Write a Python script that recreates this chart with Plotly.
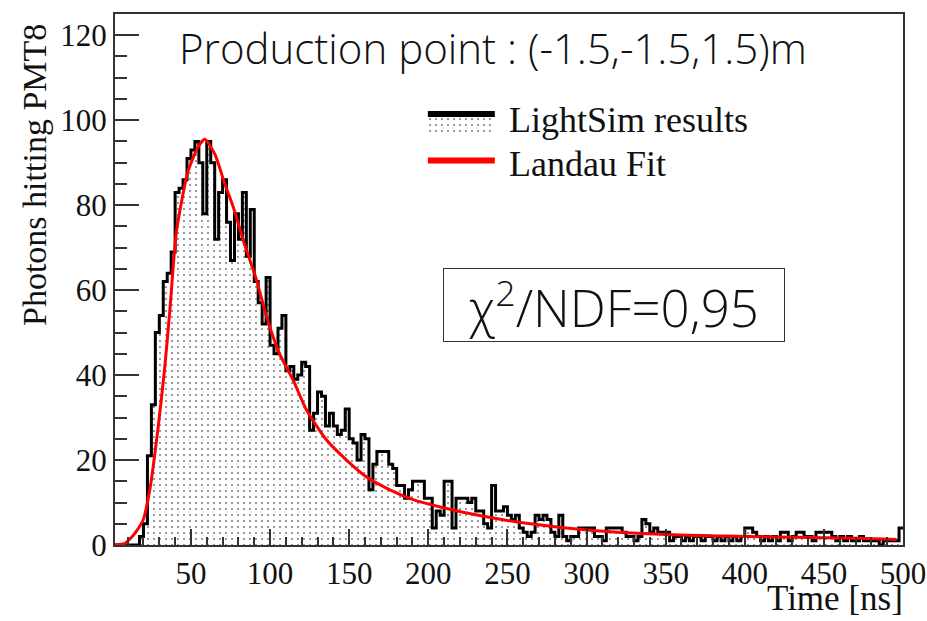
import plotly.graph_objects as go

# ---------------- data ----------------
bin_width = 2.5  # ns, histogram binning 0-500 ns
counts = [
    0, 0, 0, 0, 0, 0, 0, 2, 5, 21,            # 0-25
    33, 50, 54, 62, 64, 69, 83, 84, 86, 91,   # 25-50
    93, 95, 90, 78, 95, 90, 72, 83, 86, 76,   # 50-75
    67, 78, 72, 83, 68, 79, 62, 57, 52, 63,   # 75-100
    47, 45, 51, 54, 41, 42, 39, 40, 43, 42,   # 100-125
    27, 31, 36, 35, 28, 31, 28, 26, 27, 32,   # 125-150
    25, 24, 20, 26, 25, 13, 19, 22, 22, 22,   # 150-175
    19, 18, 14, 14, 11, 13, 15, 15, 15, 11,   # 175-200
    11, 4, 8, 7, 15, 15, 4, 11, 11, 11,       # 200-225
    10, 11, 8, 8, 5, 4, 14, 8, 8, 9,          # 225-250
    7, 6, 7, 4, 3, 2, 3, 7, 6, 7,             # 250-275
    6, 3, 2, 7, 2, 1, 2, 2, 4, 4,             # 275-300
    4, 4, 2, 2, 1, 4, 4, 4, 4, 3,             # 300-325
    2, 2, 1, 2, 6, 5, 3, 4, 3, 3,             # 325-350
    3, 1, 2, 2, 1, 2, 1, 2, 2, 1,             # 350-375
    2, 2, 1, 2, 1, 2, 1, 2, 1, 2,             # 375-400
    4, 4, 3, 2, 1, 2, 1, 2, 1, 3,             # 400-425
    3, 1, 2, 3, 3, 2, 2, 1, 3, 3,             # 425-450
    3, 3, 2, 1, 2, 1, 2, 1, 1, 2,             # 450-475
    1, 1, 1, 1, 0, 1, 1, 1, 1, 4,             # 475-500
]
bin_edges = [i * bin_width for i in range(len(counts) + 1)]

fit_time = [2, 8, 11.4, 15, 19.8, 24, 29.3, 33.5, 36.6, 40.9, 48.2, 54.5, 58.8,
            65.1, 71.4, 76.7, 83, 91.4, 97.8, 106, 114.6, 123, 135.7, 148.3,
            161, 175.7, 190.4, 207, 230, 262, 304, 354.5, 388, 430, 472.7, 496]
fit_vals = [0, 0.3, 1.4, 3, 5.9, 13, 27.8, 42, 55, 74, 88, 93.7, 95.5,
            92, 85, 79.6, 71.8, 62.4, 53.7, 45, 38.8, 31.8, 24.7, 20,
            16, 13, 10.7, 9, 7.1, 5.1, 3.4, 2.4, 2.1, 1.8, 1.6, 1.3]

x_ticks = [50, 100, 150, 200, 250, 300, 350, 400, 450, 500]
y_ticks = [0, 20, 40, 60, 80, 100, 120]

series_names = ["LightSim results", "Landau Fit"]
series_colors = ["black", "#ff0000"]

# ---------------- figure ----------------
serif = "Liberation Serif"
sans = "Open Sans"
pattern = dict(shape=".", fgcolor="black", bgcolor="white", size=6, solidity=0.1)

fig = go.Figure()

fig.add_trace(go.Scatter(
    x=bin_edges,
    y=counts + [counts[-1]],
    mode="lines",
    line=dict(shape="hv", color=series_colors[0], width=3),
    fill="tozeroy",
    fillcolor="white",
    fillpattern=pattern,
    name=series_names[0],
    showlegend=False,
))

fig.add_trace(go.Scatter(
    x=fit_time,
    y=fit_vals,
    mode="lines",
    line=dict(shape="spline", smoothing=0.6, color=series_colors[1], width=3),
    name=series_names[1],
    showlegend=False,
))

# ---- legend key (drawn on a hidden overlay axis spanning the plot area) ----
lx0, lx1 = 0.397, 0.482
fig.add_trace(go.Scatter(
    x=[lx0, lx1, lx1, lx0, lx0], y=[0.806, 0.806, 0.776, 0.776, 0.806],
    xaxis="x2", yaxis="y2", mode="none", fill="toself", fillcolor="white",
    fillpattern=pattern, showlegend=False, hoverinfo="skip",
))
fig.add_trace(go.Scatter(
    x=[lx0, lx1], y=[0.8117, 0.8117], xaxis="x2", yaxis="y2", mode="lines",
    line=dict(color=series_colors[0], width=6), showlegend=False, hoverinfo="skip",
))
fig.add_trace(go.Scatter(
    x=[lx0, lx1], y=[0.724, 0.724], xaxis="x2", yaxis="y2", mode="lines",
    line=dict(color=series_colors[1], width=6), showlegend=False, hoverinfo="skip",
))

def axis_common():
    return dict(
        showline=True, linecolor="#333333", linewidth=2, mirror=True,
        showgrid=False, zeroline=False, automargin=False,
        ticks="inside", tickcolor="#333333", tickwidth=1.5,
        tickfont=dict(family=serif, size=31, color="#111111"),
    )

xaxis = axis_common()
xaxis.update(range=[2, 500], tickvals=x_ticks, ticklen=16,
             minor=dict(ticks="inside", dtick=10, tick0=0, ticklen=8,
                        tickcolor="#333333", tickwidth=1.5))
yaxis = axis_common()
yaxis.update(range=[0, 125], tickvals=y_ticks, ticklen=24,
             minor=dict(ticks="inside", dtick=5, tick0=0, ticklen=12,
                        tickcolor="#333333", tickwidth=1.5))

fig.update_layout(
    width=927, height=621,
    margin=dict(l=115, r=24, t=14, b=76),
    paper_bgcolor="white", plot_bgcolor="white",
    showlegend=False,
    xaxis=xaxis,
    yaxis=yaxis,
    xaxis2=dict(overlaying="x", anchor="y2", range=[0, 1], visible=False, domain=[0, 1]),
    yaxis2=dict(overlaying="y", anchor="x2", range=[0, 1], visible=False, domain=[0, 1]),
    annotations=[
        dict(text=series_names[0], xref="paper", yref="paper", x=0.498, y=0.8,
             xanchor="left", yanchor="middle", showarrow=False,
             font=dict(family=serif, size=36, color="#111111")),
        dict(text=series_names[1], xref="paper", yref="paper", x=0.498, y=0.717,
             xanchor="left", yanchor="middle", showarrow=False,
             font=dict(family=serif, size=36, color="#111111")),
        dict(text="Time [ns]", xref="paper", yref="paper", x=1.003, y=-0.142,
             xanchor="right", yanchor="bottom", showarrow=False,
             font=dict(family=serif, size=35, color="#111111")),
        dict(text="Photons hitting PMT8", xref="paper", yref="paper",
             x=-0.1015, y=0.985, xanchor="center", yanchor="top", textangle=-90,
             showarrow=False,
             font=dict(family=serif, size=34, color="#111111")),
        dict(text="Production point : (-1.5,-1.5,1.5)m", xref="paper", yref="paper",
             x=0.48, y=0.936, xanchor="center", yanchor="middle", showarrow=False,
             font=dict(family=sans, size=42, color="#111111", weight=300)),
        dict(text="χ<sup>2</sup>/NDF=0,95", xref="paper", yref="paper",
             x=0.633, y=0.452, xanchor="center", yanchor="middle", showarrow=False,
             width=340, height=72, align="center",
             bordercolor="#333333", borderwidth=1, borderpad=0, bgcolor="white",
             font=dict(family=sans, size=51, color="#111111", weight=300)),
    ],
)

fig.write_html("out.html")
